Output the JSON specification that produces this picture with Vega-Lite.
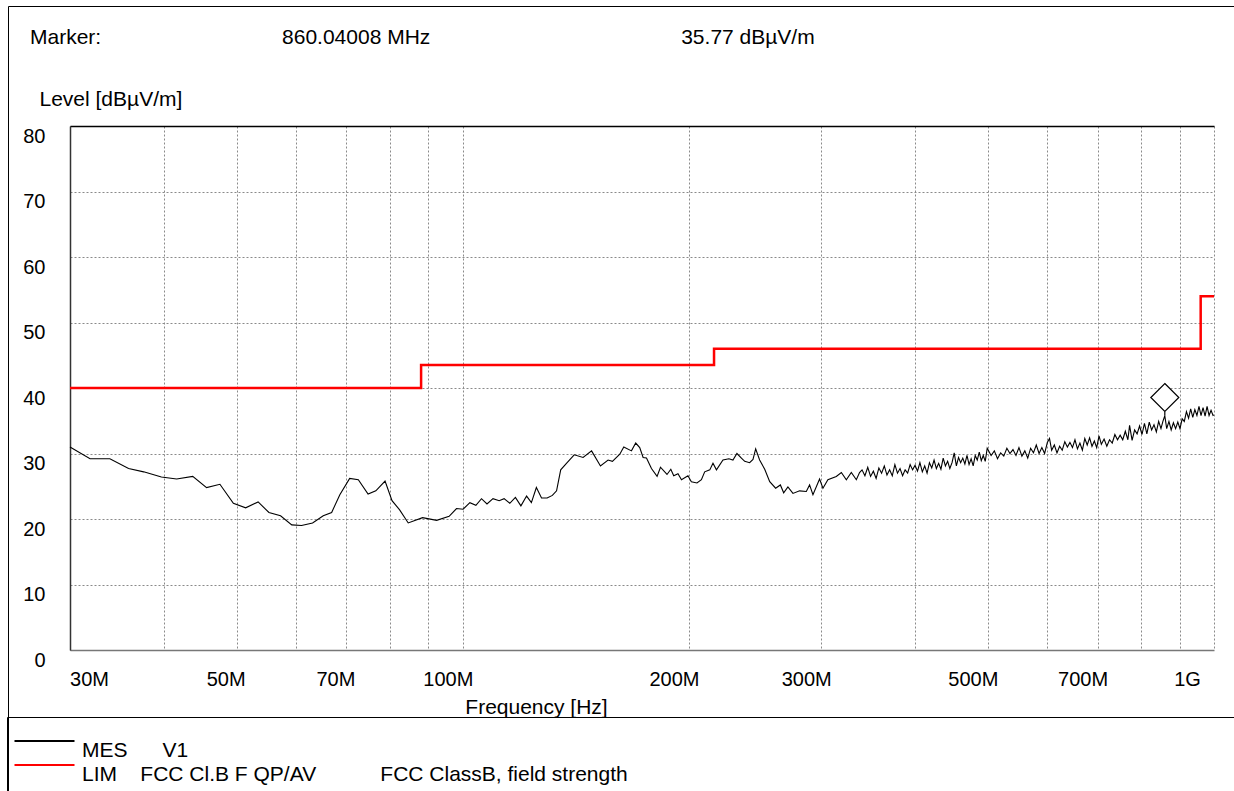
{
  "$schema": "https://vega.github.io/schema/vega-lite/v6.json",
  "width": 1144,
  "height": 524,
  "autosize": {"type": "none"},
  "padding": {"left": 70, "top": 126, "right": 20, "bottom": 141},
  "background": "white",
  "title": {
    "text": "Marker:\u00a0\u00a0\u00a0\u00a0\u00a0\u00a0\u00a0\u00a0\u00a0\u00a0\u00a0\u00a0\u00a0\u00a0\u00a0\u00a0\u00a0\u00a0\u00a0\u00a0\u00a0\u00a0\u00a0\u00a0\u00a0\u00a0\u00a0\u00a0\u00a0\u00a0\u00a0860.04008 MHz\u00a0\u00a0\u00a0\u00a0\u00a0\u00a0\u00a0\u00a0\u00a0\u00a0\u00a0\u00a0\u00a0\u00a0\u00a0\u00a0\u00a0\u00a0\u00a0\u00a0\u00a0\u00a0\u00a0\u00a0\u00a0\u00a0\u00a0\u00a0\u00a0\u00a0\u00a0\u00a0\u00a0\u00a0\u00a0\u00a0\u00a0\u00a0\u00a0\u00a0\u00a0\u00a0\u00a035.77 dBµV/m",
    "anchor": "start",
    "frame": "group",
    "dx": -40,
    "offset": -42,
    "fontSize": 21,
    "fontWeight": "normal",
    "font": "Liberation Sans",
    "color": "black"
  },
  "datasets": {
    "mes": [
      {"f":30,"v":31.0},{"f":31.9,"v":29.2},{"f":33.9,"v":29.2},{"f":35.9,"v":27.7},{"f":37.6,"v":27.2},{"f":39.7,"v":26.4},{"f":41.6,"v":26.1},{"f":43.7,"v":26.5},{"f":45.6,"v":24.8},{"f":47.5,"v":25.3},
      {"f":49.5,"v":22.4},{"f":51.4,"v":21.7},{"f":53.4,"v":22.6},{"f":55.2,"v":21.0},{"f":57.2,"v":20.5},{"f":59.2,"v":19.1},{"f":61.0,"v":19.0},{"f":63.1,"v":19.4},{"f":65.2,"v":20.5},{"f":66.9,"v":21.0},
      {"f":68.6,"v":23.7},{"f":70.7,"v":26.2},{"f":72.6,"v":26.0},{"f":74.8,"v":23.8},{"f":76.6,"v":24.3},{"f":78.8,"v":25.8},{"f":80.5,"v":22.8},{"f":82.4,"v":21.4},{"f":84.6,"v":19.4},{"f":88.4,"v":20.2},
      {"f":92.3,"v":19.8},{"f":95.9,"v":20.4},{"f":98.1,"v":21.6},{"f":100.1,"v":21.5},{"f":102.2,"v":22.5},{"f":104.1,"v":22.1},{"f":105.9,"v":23.1},{"f":107.7,"v":22.3},{"f":109.7,"v":23.1},{"f":111.8,"v":22.8},
      {"f":113.5,"v":23.1},{"f":115.5,"v":22.4},{"f":117.5,"v":23.3},{"f":119.5,"v":22.0},{"f":121.6,"v":23.5},{"f":123.4,"v":22.5},{"f":125.3,"v":24.8},{"f":127.3,"v":23.2},{"f":129.5,"v":23.2},{"f":131.6,"v":23.6},
      {"f":133.3,"v":24.3},{"f":135.0,"v":27.5},{"f":137.4,"v":28.5},{"f":140.7,"v":29.8},{"f":144.6,"v":29.4},{"f":148.4,"v":30.4},{"f":152.5,"v":28.1},{"f":156.1,"v":29.0},{"f":158.2,"v":28.8},{"f":161.8,"v":29.9},
      {"f":163.8,"v":31.0},{"f":167.7,"v":30.4},{"f":169.9,"v":31.6},{"f":172.0,"v":30.9},{"f":173.8,"v":29.4},{"f":175.6,"v":29.3},{"f":178.3,"v":27.7},{"f":181.4,"v":26.5},{"f":183.3,"v":27.9},{"f":187.0,"v":26.8},
      {"f":189.2,"v":27.6},{"f":190.9,"v":26.6},{"f":193.4,"v":26.9},{"f":195.5,"v":26.0},{"f":199.4,"v":26.6},{"f":201.5,"v":25.7},{"f":205.0,"v":25.5},{"f":207.8,"v":26.0},{"f":209.9,"v":27.2},{"f":213.2,"v":27.5},
      {"f":215.3,"v":28.5},{"f":217.6,"v":27.5},{"f":222.0,"v":29.0},{"f":226.1,"v":29.2},{"f":228.9,"v":29.0},{"f":231.7,"v":30.0},{"f":234.9,"v":29.3},{"f":237.3,"v":28.8},{"f":240.9,"v":28.6},{"f":243.4,"v":29.1},
      {"f":245.4,"v":30.7},{"f":248.4,"v":29.0},{"f":252.3,"v":27.6},{"f":256.2,"v":25.7},{"f":260.9,"v":24.7},{"f":264.7,"v":25.2},{"f":267.4,"v":24.0},{"f":270.9,"v":24.9},{"f":275.1,"v":23.9},{"f":280.8,"v":24.3},
      {"f":286.6,"v":24.2},{"f":289.5,"v":25.2},{"f":292.5,"v":23.7},{"f":298.5,"v":26.1},{"f":301.6,"v":24.7},{"f":306.2,"v":26.0},{"f":314.2,"v":26.5},{"f":319.1,"v":27.1},{"f":324.0,"v":26.0},{"f":329.0,"v":27.1},
      {"f":334.1,"v":26.0},{"f":337.4,"v":27.1},
      {"f":340,"v":27.5},{"f":343,"v":26.6},{"f":346,"v":27.9},{"f":349,"v":26.5},{"f":352,"v":27.3},{"f":355,"v":26.2},{"f":358,"v":27.8},{"f":361,"v":27.0},{"f":364,"v":28.1},{"f":367,"v":26.7},
      {"f":370,"v":27.5},{"f":373,"v":26.6},{"f":376,"v":28.3},{"f":379,"v":27.0},{"f":382,"v":27.7},{"f":385,"v":26.6},{"f":388,"v":27.5},{"f":391,"v":27.0},{"f":394,"v":28.3},{"f":397,"v":27.5},
      {"f":400,"v":28.2},{"f":403,"v":27.3},{"f":406,"v":28.6},{"f":409,"v":27.2},{"f":412,"v":28.1},{"f":415,"v":27.0},{"f":418,"v":28.6},{"f":421,"v":27.8},{"f":424,"v":29.0},{"f":427,"v":27.7},
      {"f":430,"v":28.5},{"f":433,"v":27.6},{"f":436,"v":29.3},{"f":439,"v":28.1},{"f":442,"v":28.8},{"f":445,"v":27.7},{"f":448,"v":28.6},{"f":451,"v":30.1},{"f":454,"v":28.1},{"f":457,"v":29.4},
      {"f":460,"v":28.6},{"f":463,"v":29.3},{"f":466,"v":28.4},{"f":469,"v":29.7},{"f":472,"v":28.3},{"f":475,"v":29.2},{"f":478,"v":28.1},{"f":481,"v":29.7},{"f":484,"v":29.0},{"f":487,"v":30.2},
      {"f":490,"v":28.9},{"f":493,"v":29.7},{"f":496,"v":28.8},{"f":499,"v":30.8},
      {"f":505,"v":29.7},{"f":510,"v":30.4},{"f":515,"v":29.2},{"f":520,"v":30.1},{"f":525,"v":29.6},{"f":530,"v":30.8},{"f":535,"v":30.0},{"f":540,"v":30.6},{"f":545,"v":29.7},{"f":550,"v":30.9},
      {"f":555,"v":29.6},{"f":560,"v":30.4},{"f":565,"v":29.3},{"f":570,"v":30.8},{"f":575,"v":30.1},{"f":580,"v":31.3},{"f":585,"v":30.0},{"f":590,"v":30.9},{"f":595,"v":30.0},{"f":600,"v":31.7},
      {"f":604,"v":32.3},{"f":608,"v":30.5},{"f":613,"v":31.3},{"f":618,"v":30.1},{"f":623,"v":31.1},{"f":628,"v":30.5},{"f":633,"v":31.8},{"f":638,"v":31.0},{"f":643,"v":31.7},{"f":648,"v":30.9},
      {"f":653,"v":32.1},{"f":658,"v":30.7},{"f":663,"v":31.6},{"f":668,"v":30.5},{"f":673,"v":32.3},{"f":678,"v":31.3},{"f":683,"v":32.4},{"f":688,"v":31.1},{"f":693,"v":31.9},{"f":698,"v":30.9},
      {"f":703,"v":32.7},{"f":708,"v":31.4},{"f":714,"v":32.2},{"f":720,"v":31.1},{"f":726,"v":32.1},{"f":732,"v":31.6},{"f":738,"v":32.9},{"f":744,"v":32.1},{"f":750,"v":32.8},{"f":756,"v":32.1},
      {"f":762,"v":33.4},{"f":768,"v":32.1},{"f":772,"v":34.3},{"f":778,"v":32.0},{"f":784,"v":33.6},{"f":790,"v":33.0},{"f":796,"v":34.2},{"f":802,"v":32.9},{"f":808,"v":34.6},{"f":814,"v":33.0},
      {"f":820,"v":34.8},{"f":826,"v":33.6},{"f":832,"v":34.4},{"f":838,"v":33.3},{"f":844,"v":34.9},{"f":850,"v":33.8},{"f":855,"v":34.9},{"f":860.04,"v":35.77},{"f":865,"v":33.8},{"f":871,"v":34.9},
      {"f":877,"v":33.6},{"f":883,"v":34.7},{"f":889,"v":33.8},{"f":895,"v":34.8},{"f":901,"v":33.8},{"f":907,"v":35.3},{"f":913,"v":34.9},{"f":919,"v":36.4},{"f":925,"v":35.4},{"f":931,"v":36.8},
      {"f":937,"v":35.5},{"f":943,"v":36.7},{"f":949,"v":35.8},{"f":955,"v":37.2},{"f":961,"v":35.8},{"f":967,"v":37.0},{"f":973,"v":35.7},{"f":979,"v":37.2},{"f":985,"v":35.8},{"f":991,"v":36.6},
      {"f":997,"v":35.8},{"f":1000,"v":35.9}
    ],
    "lim": [
      {"f":30,"v":40},{"f":88,"v":43.5},{"f":216,"v":46},{"f":960,"v":54},{"f":1000,"v":54}
    ],
    "marker": [
      {"f":860.04008,"v":35.77}
    ]
  },
  "resolve": {"axis": {"x": "independent"}},
  "layer": [
    {
      "data": {"name": "mes"},
      "mark": {"type": "line", "strokeWidth": 1.1, "interpolate": "linear"},
      "encoding": {
        "x": {
          "field": "f", "type": "quantitative",
          "scale": {"type": "log", "domain": [30, 1000], "nice": false},
          "axis": {
            "values": [30,40,50,60,70,80,90,100,200,300,400,500,600,700,800,900,1000],
            "labelExpr": "indexof([30,50,70,100,200,300,500,700], datum.value) >= 0 ? datum.value + 'M' : (datum.value == 1000 ? '1G' : '')",
            "grid": true, "gridDash": [2, 2], "gridColor": "#8a8a8a", "gridWidth": 1,
            "ticks": false, "tickSize": 0,
            "domain": true, "domainColor": "#777777", "domainWidth": 1.5,
            "labelFontSize": 20, "labelPadding": 19, "labelColor": "black",
            "labelOverlap": false, "labelFlush": false, "labelBound": false,
            "labelOffset": {"condition": [{"test": "datum.value == 30", "value": 19}, {"test": "datum.value < 90", "value": -11}, {"test": "datum.value == 1000", "value": -27}], "value": -15},
            "title": "Frequency [Hz]",
            "titleX": 466, "titleY": 63, "titleAlign": "center", "titleAnchor": null, "titleBaseline": "alphabetic",
            "titleFontSize": 21, "titleFontWeight": "normal", "titleColor": "black"
          }
        },
        "y": {
          "field": "v", "type": "quantitative",
          "scale": {"domain": [0, 80], "nice": false, "zero": false},
          "axis": {
            "values": [0,10,20,30,40,50,60,70,80],
            "grid": true, "gridDash": [2, 2], "gridColor": "#8a8a8a", "gridWidth": 1,
            "ticks": false, "tickSize": 0,
            "domain": true, "domainColor": "#333333", "domainWidth": 1.5,
            "labelFontSize": 20, "labelPadding": 25, "labelOffset": 10, "labelColor": "black",
            "labelOverlap": false, "labelBound": false,
            "title": "Level [dBµV/m]",
            "titleAngle": 0, "titleX": -31, "titleY": -21, "titleAlign": "left", "titleAnchor": null, "titleBaseline": "alphabetic",
            "titleFontSize": 21, "titleFontWeight": "normal", "titleColor": "black"
          }
        },
        "color": {
          "datum": "MES",
          "type": "nominal",
          "scale": {"domain": ["MES", "LIM"], "range": ["black", "#ff0000"]},
          "legend": {
            "orient": "none",
            "legendX": -63,
            "legendY": 591,
            "title": null,
            "padding": 23,
            "symbolType": "M-26,-9.5H34",
            "symbolSize": 4,
            "symbolStrokeWidth": 2,
            "labelOffset": 31,
            "labelFontSize": 21,
            "labelBaseline": "middle",
            "labelColor": "black",
            "labelLimit": 4000,
            "rowPadding": 0,
            "strokeColor": "black",
            "labelExpr": "datum.label == 'MES' ? 'MES\u00a0\u00a0\u00a0\u00a0\u00a0\u00a0V1' : 'LIM\u00a0\u00a0\u00a0\u00a0FCC Cl.B F QP/AV\u00a0\u00a0\u00a0\u00a0\u00a0\u00a0\u00a0\u00a0\u00a0\u00a0\u00a0FCC ClassB, field strength\u00a0\u00a0\u00a0\u00a0\u00a0\u00a0\u00a0\u00a0\u00a0\u00a0\u00a0\u00a0\u00a0\u00a0\u00a0\u00a0\u00a0\u00a0\u00a0\u00a0\u00a0\u00a0\u00a0\u00a0\u00a0\u00a0\u00a0\u00a0\u00a0\u00a0\u00a0\u00a0\u00a0\u00a0\u00a0\u00a0\u00a0\u00a0\u00a0\u00a0\u00a0\u00a0\u00a0\u00a0\u00a0\u00a0\u00a0\u00a0\u00a0\u00a0\u00a0\u00a0\u00a0\u00a0\u00a0\u00a0\u00a0\u00a0\u00a0\u00a0\u00a0\u00a0\u00a0\u00a0\u00a0\u00a0\u00a0\u00a0\u00a0\u00a0\u00a0\u00a0\u00a0\u00a0\u00a0\u00a0\u00a0\u00a0\u00a0\u00a0\u00a0\u00a0\u00a0\u00a0\u00a0\u00a0\u00a0\u00a0\u00a0\u00a0\u00a0\u00a0\u00a0\u00a0\u00a0\u00a0\u00a0\u00a0\u00a0\u00a0\u00a0\u00a0\u00a0\u00a0\u00a0\u00a0\u200b'"
          }
        }
      }
    },
    {
      "data": {"name": "lim"},
      "mark": {"type": "line", "strokeWidth": 2.5, "interpolate": "step-after"},
      "encoding": {
        "x": {
          "field": "f", "type": "quantitative",
          "axis": {"orient": "top", "labels": false, "ticks": false, "grid": false, "title": null, "domain": true, "domainColor": "black", "domainWidth": 1.5}
        },
        "y": {"field": "v", "type": "quantitative"},
        "color": {"datum": "LIM", "type": "nominal"}
      }
    },
    {
      "data": {"name": "marker"},
      "mark": {"type": "point", "size": 784, "filled": false, "fill": "white", "fillOpacity": 1, "stroke": "black", "strokeWidth": 1.2, "opacity": 1},
      "encoding": {
        "x": {"field": "f", "type": "quantitative", "axis": null},
        "y": {"field": "v", "type": "quantitative"},
        "shape": {
          "datum": "marker",
          "type": "nominal",
          "scale": {"range": ["M0,-2.3L1,-1.3L0,-0.3L-1,-1.3ZM0,-0.3L0,0"]},
          "legend": {
            "orient": "none",
            "legendX": -62,
            "legendY": -120,
            "title": null,
            "padding": 0,
            "symbolSize": 4000000,
            "symbolOpacity": 0,
            "symbolStrokeWidth": 0,
            "labelExpr": "''",
            "labelOffset": 0,
            "strokeColor": "black"
          }
        }
      }
    }
  ],
  "config": {
    "font": "Liberation Sans",
    "view": {"stroke": null},
    "legend": {"strokeWidth": 1}
  }
}
